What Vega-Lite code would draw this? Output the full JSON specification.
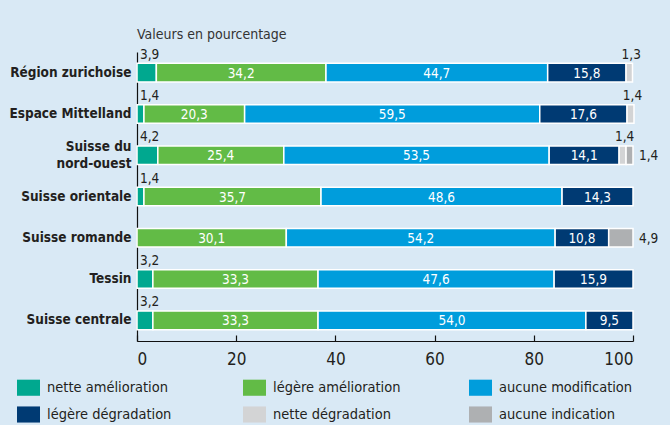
{
  "$schema": "https://vega.github.io/schema/vega-lite/v6.json",
  "width": 496,
  "height": 289,
  "autosize": {"type": "none"},
  "padding": {"left": 137, "top": 52, "right": 37, "bottom": 84},
  "background": "#d9e9f5",
  "title": {"text": "Valeurs en pourcentage", "anchor": "start", "frame": "group", "fontSize": 14, "fontWeight": "normal", "color": "#333333", "offset": 6, "font": "DejaVu Sans Condensed, sans-serif"},
  "config": {
    "view": {"stroke": null},
    "font": "DejaVu Sans Condensed, sans-serif",
    "locale": {"number": {"decimal": ",", "thousands": "'", "grouping": [3], "currency": ["", ""]}}
  },
  "data": {"values": [
    {"region": "Région zurichoise", "cat": "nette amélioration", "value": 3.9},
    {"region": "Région zurichoise", "cat": "légère amélioration", "value": 34.2},
    {"region": "Région zurichoise", "cat": "aucune modification", "value": 44.7},
    {"region": "Région zurichoise", "cat": "légère dégradation", "value": 15.8},
    {"region": "Région zurichoise", "cat": "nette dégradation", "value": 1.3},
    {"region": "Espace Mittelland", "cat": "nette amélioration", "value": 1.4},
    {"region": "Espace Mittelland", "cat": "légère amélioration", "value": 20.3},
    {"region": "Espace Mittelland", "cat": "aucune modification", "value": 59.5},
    {"region": "Espace Mittelland", "cat": "légère dégradation", "value": 17.6},
    {"region": "Espace Mittelland", "cat": "nette dégradation", "value": 1.4},
    {"region": "Suisse du nord-ouest", "cat": "nette amélioration", "value": 4.2},
    {"region": "Suisse du nord-ouest", "cat": "légère amélioration", "value": 25.4},
    {"region": "Suisse du nord-ouest", "cat": "aucune modification", "value": 53.5},
    {"region": "Suisse du nord-ouest", "cat": "légère dégradation", "value": 14.1},
    {"region": "Suisse du nord-ouest", "cat": "nette dégradation", "value": 1.4},
    {"region": "Suisse du nord-ouest", "cat": "aucune indication", "value": 1.4},
    {"region": "Suisse orientale", "cat": "nette amélioration", "value": 1.4},
    {"region": "Suisse orientale", "cat": "légère amélioration", "value": 35.7},
    {"region": "Suisse orientale", "cat": "aucune modification", "value": 48.6},
    {"region": "Suisse orientale", "cat": "légère dégradation", "value": 14.3},
    {"region": "Suisse romande", "cat": "légère amélioration", "value": 30.1},
    {"region": "Suisse romande", "cat": "aucune modification", "value": 54.2},
    {"region": "Suisse romande", "cat": "légère dégradation", "value": 10.8},
    {"region": "Suisse romande", "cat": "aucune indication", "value": 4.9},
    {"region": "Tessin", "cat": "nette amélioration", "value": 3.2},
    {"region": "Tessin", "cat": "légère amélioration", "value": 33.3},
    {"region": "Tessin", "cat": "aucune modification", "value": 47.6},
    {"region": "Tessin", "cat": "légère dégradation", "value": 15.9},
    {"region": "Suisse centrale", "cat": "nette amélioration", "value": 3.2},
    {"region": "Suisse centrale", "cat": "légère amélioration", "value": 33.3},
    {"region": "Suisse centrale", "cat": "aucune modification", "value": 54.0},
    {"region": "Suisse centrale", "cat": "légère dégradation", "value": 9.5}
  ]},
  "transform": [
    {"calculate": "indexof(['nette amélioration','légère amélioration','aucune modification','légère dégradation','nette dégradation','aucune indication'], datum.cat)", "as": "ord"},
    {"stack": "value", "groupby": ["region"], "sort": [{"field": "ord", "order": "ascending"}], "as": ["x0", "x1"]},
    {"calculate": "(datum.x0 + datum.x1) / 2", "as": "mid"}
  ],
  "encoding": {
    "y": {
      "field": "region", "type": "nominal",
      "sort": ["Région zurichoise", "Espace Mittelland", "Suisse du nord-ouest", "Suisse orientale", "Suisse romande", "Tessin", "Suisse centrale"],
      "scale": {"paddingInner": 0.55, "paddingOuter": 0.275},
      "axis": {
        "title": null, "ticks": false, "domainColor": "#111111", "domainWidth": 1.2,
        "labelFontSize": 13.5, "labelFontWeight": "bold", "labelColor": "#231f20", "labelPadding": 6,
        "labelLineHeight": 17, "labelLimit": 200,
        "labelOffset": {"condition": {"test": "datum.value == 'Suisse du nord-ouest'", "value": -8}, "value": 0},
        "labelExpr": "datum.value == 'Suisse du nord-ouest' ? ['Suisse du', 'nord-ouest'] : datum.value"
      }
    }
  },
  "layer": [
    {
      "mark": {"type": "bar", "stroke": "white", "strokeWidth": 1.5},
      "encoding": {
        "x": {"field": "x0", "type": "quantitative", "scale": {"domain": [0, 100], "nice": false},
          "axis": {"title": null, "values": [0, 20, 40, 60, 80, 100], "grid": false, "tickSize": -6, "tickColor": "#111111", "domainColor": "#111111", "domainWidth": 1.2, "tickWidth": 1.2, "labelFontSize": 17, "labelColor": "#231f20", "labelPadding": 16, "format": "d"}},
        "x2": {"field": "x1"},
        "color": {
          "field": "cat", "type": "nominal",
          "scale": {
            "domain": ["nette amélioration", "légère amélioration", "aucune modification", "légère dégradation", "nette dégradation", "aucune indication"],
            "range": ["#00a88f", "#62bb46", "#009ddc", "#003a73", "#d3d4d5", "#aeb0b2"]
          },
          "legend": {
            "title": null, "orient": "none", "direction": "horizontal", "legendX": -120, "legendY": 324, "columns": 3, "gridAlign": "all",
            "columnPadding": 62, "rowPadding": 7,
            "symbolType": "M-1,-0.7H1V0.7H-1Z", "symbolSize": 529, "symbolStrokeWidth": 0, "symbolOpacity": 1,
            "labelFontSize": 14.5, "labelColor": "#231f20", "labelOffset": 7, "labelLimit": 250
          }
        }
      }
    },
    {
      "transform": [{"filter": "datum.value >= 5"}],
      "mark": {"type": "text", "color": "white", "fontSize": 13.5, "align": "center", "baseline": "middle", "dy": 1},
      "encoding": {
        "x": {"field": "mid", "type": "quantitative"},
        "text": {"field": "value", "type": "quantitative", "format": ".1f"}
      }
    },
    {
      "transform": [{"filter": "datum.cat == 'nette amélioration'"}],
      "mark": {"type": "text", "color": "#231f20", "fontSize": 13.5, "align": "left", "baseline": "middle", "dx": 3, "dy": -18},
      "encoding": {
        "x": {"field": "x0", "type": "quantitative"},
        "text": {"field": "value", "type": "quantitative", "format": ".1f"}
      }
    },
    {
      "transform": [{"filter": "datum.cat == 'nette dégradation'"}],
      "mark": {"type": "text", "color": "#231f20", "fontSize": 13.5, "align": "center", "baseline": "middle", "dx": 2, "dy": -18},
      "encoding": {
        "x": {"field": "mid", "type": "quantitative"},
        "text": {"field": "value", "type": "quantitative", "format": ".1f"}
      }
    },
    {
      "transform": [{"filter": "datum.cat == 'aucune indication'"}],
      "mark": {"type": "text", "color": "#231f20", "fontSize": 13.5, "align": "left", "baseline": "middle", "dx": 6, "dy": 1},
      "encoding": {
        "x": {"field": "x1", "type": "quantitative"},
        "text": {"field": "value", "type": "quantitative", "format": ".1f"}
      }
    }
  ]
}
